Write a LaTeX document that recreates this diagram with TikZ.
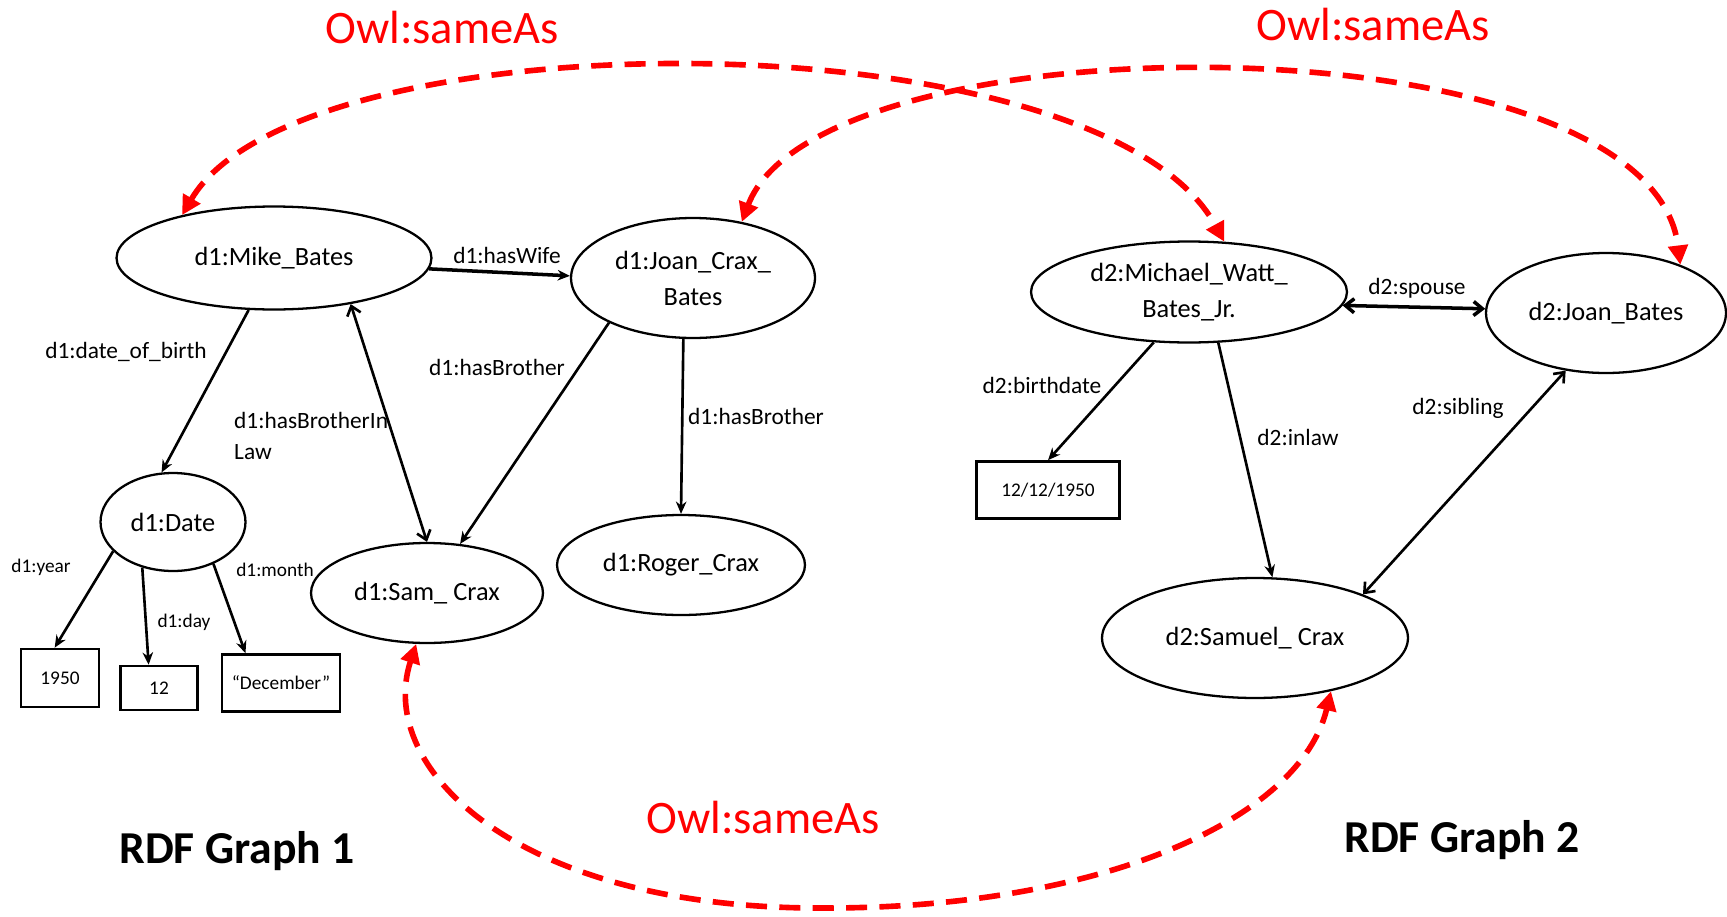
\documentclass[tikz,border=0pt]{standalone}
\usepackage{fontspec}
\setmainfont{Carlito}
\usepackage{tikz}
\usetikzlibrary{arrows.meta, positioning, shapes.geometric}

\begin{document}
\begin{tikzpicture}[x=0.02cm, y=-0.02cm,
  ent/.style={draw, ellipse, line width=1.3pt, inner sep=0pt, align=center,
              font=\fontsize{15}{20.5}\selectfont},
  lit/.style={draw, rectangle, line width=1.5pt, inner sep=0pt,
              font=\fontsize{11}{13}\selectfont},
  rel/.style={-{Stealth[length=7pt,width=6pt]}, line width=1.5pt},
  sym/.style={{Straight Barb[length=5pt,width=8pt]}-{Straight Barb[length=5pt,width=8pt]}, line width=1.5pt},
  plab/.style={font=\fontsize{13.3}{18}\selectfont},
  slab/.style={font=\fontsize{11}{13}\selectfont},
  same/.style={red, line width=3.2pt, dash pattern=on 12pt off 7pt,
               {Triangle[length=11pt,width=11pt]}-{Triangle[length=11pt,width=11pt]}},
  owl/.style={red, anchor=base, font=\fontsize{26.5}{32}\selectfont},
  gtitle/.style={anchor=base, font=\bfseries\fontsize{26}{32}\selectfont}]
  \useasboundingbox (0,0) rectangle (1727,916);

  % RDF graph 1
  \node[ent, minimum width=6.3cm, minimum height=2.06cm] (mike) at (274,258) {d1:Mike\_Bates};
  \node[ent, minimum width=4.88cm, minimum height=2.4cm] (joanc) at (693,278) {d1:Joan\_Crax\_\\Bates};
  \node[ent, minimum width=2.9cm, minimum height=1.96cm] (date) at (173,522) {d1:Date};
  \node[ent, minimum width=4.64cm, minimum height=2.0cm] (sam) at (427,593) {d1:Sam\_ Crax};
  \node[ent, minimum width=4.96cm, minimum height=2.0cm] (roger) at (681,565) {d1:Roger\_Crax};
  \node[lit, minimum width=1.56cm, minimum height=1.16cm] (yr) at (60,678) {1950};
  \node[lit, minimum width=1.54cm, minimum height=0.88cm] (dy) at (159,688) {12};
  \node[lit, minimum width=2.36cm, minimum height=1.14cm] (mon) at (281,683) {“December”};

  \draw[rel, line width=2pt] (mike.356) -- (joanc.179);
  \draw[rel] (mike.244) -- (date.103);
  \draw[sym] (mike.329) -- (sam.90);
  \draw[rel] (joanc.208) -- (sam.56);
  \draw[rel] (joanc.261) -- (roger.90);
  \draw[rel] (date.206) -- (yr.100);
  \draw[rel] (date.236) -- (dy.114);
  \draw[rel] (date.314) -- (mon.140);

  \node[plab] (lwife) at (507,255) {d1:hasWife};
  \node[plab] (ldob) at (126,352) {d1:date\_of\_birth};
  \node[plab, anchor=west, align=left] (lbil) at (228,436) {d1:hasBrotherIn\\Law};
  \node[plab] (lbro1) at (497,367) {d1:hasBrother};
  \node[plab] (lbro2) at (756,416) {d1:hasBrother};
  \node[slab] (lyear) at (41,567) {d1:year};
  \node[slab] (lday) at (184,622) {d1:day};
  \node[slab] (lmonth) at (275,570) {d1:month};

  % RDF graph 2
  \node[ent, minimum width=6.32cm, minimum height=2.02cm] (michael) at (1189,292) {d2:Michael\_Watt\_\\Bates\_Jr.};
  \node[ent, minimum width=4.8cm, minimum height=2.4cm] (joanb) at (1606,313) {d2:Joan\_Bates};
  \node[ent, minimum width=6.12cm, minimum height=2.4cm] (samuel) at (1255,638) {d2:Samuel\_ Crax};
  \node[lit, minimum width=2.86cm, minimum height=1.14cm] (bdate) at (1048,490) {12/12/1950};

  \draw[sym, line width=2pt] (michael.355) -- (joanb.178);
  \draw[rel] (michael.235) -- (bdate.north);
  \draw[rel] (michael.300) -- (samuel.74);
  \draw[sym] (samuel.22) -- (joanb.235);

  \node[plab] (lspouse) at (1417,288) {d2:spouse};
  \node[plab] (lbirth) at (1042,385) {d2:birthdate};
  \node[plab] (linlaw) at (1298,437) {d2:inlaw};
  \node[plab] (lsib) at (1458,408) {d2:sibling};

  % owl:sameAs links
  \draw[same] (mike.155) .. controls (300,14) and (1100,14) .. (michael.55);
  \draw[same] (joanc.49) .. controls (820,15) and (1650,15) .. (joanb.33);
  \draw[same] (sam.258) .. controls (375,770) and (520,910) .. (826,908)
              .. controls (1100,908) and (1300,820) .. (samuel.325);

  \node[owl] (owl1) at (442,43) {Owl:sameAs};
  \node[owl] (owl2) at (1373,40) {Owl:sameAs};
  \node[owl] (owl3) at (763,833) {Owl:sameAs};

  \node[gtitle] (g1) at (237,863) {RDF Graph 1};
  \node[gtitle] (g2) at (1462,852) {RDF Graph 2};
\end{tikzpicture}
\end{document}
